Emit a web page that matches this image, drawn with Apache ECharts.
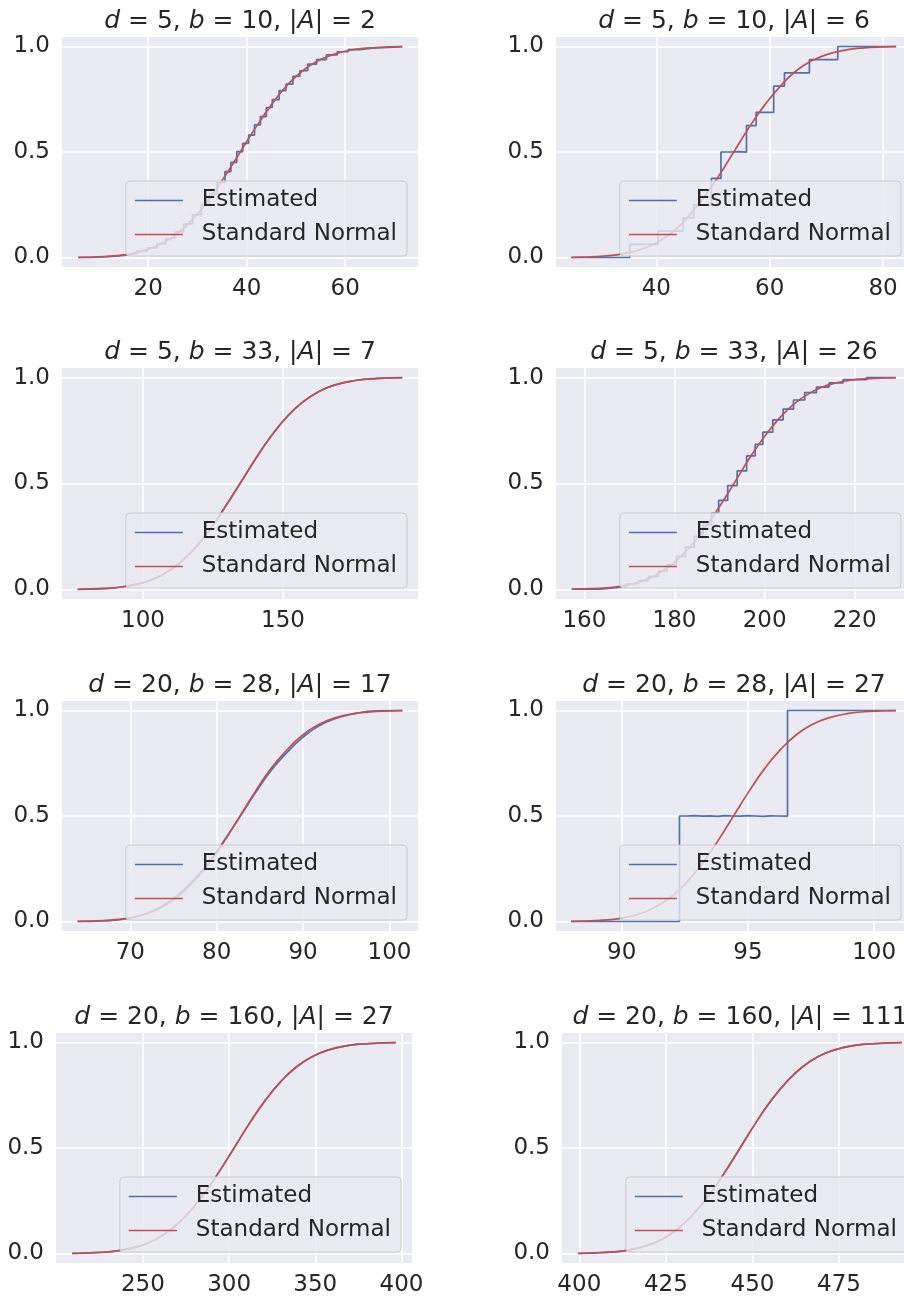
<!DOCTYPE html>
<html>
<head>
<meta charset="utf-8">
<script src="https://cdn.jsdelivr.net/npm/echarts@6/dist/echarts.min.js"></script>
<style>
html, body { margin: 0; padding: 0; background: #fff; }
#main { width: 904px; height: 1298px; }
</style>
</head>
<body>
<div id="main"></div>
<script>
// panel parameters (title values)
var dVals = [5, 5, 5, 5, 20, 20, 20, 20];
var bVals = [10, 10, 33, 33, 28, 28, 160, 160];
var aVals = [2, 6, 7, 26, 17, 27, 27, 111];

// x tick labels per panel
var xTicks = [
    [20, 40, 60], [40, 60, 80],
    [100, 150], [160, 180, 200, 220],
    [70, 80, 90, 100], [90, 95, 100],
    [250, 300, 350, 400], [400, 425, 450, 475]
];
var yTicks = [0, 0.5, 1];

// standard normal curve, y values (shared), x values per panel
var normalY = [0.0010, 0.0047, 0.0139, 0.0359, 0.0668, 0.1151, 0.1841, 0.2743, 0.3821, 0.5,
    0.6179, 0.7257, 0.8159, 0.8849, 0.9332, 0.9641, 0.9861, 0.9953, 0.9990];
var normalX1 = [5.8, 11.1, 15.4, 19.6, 22.8, 26.0, 29.2, 32.3, 35.5, 38.7, 41.9, 45.1, 48.2, 51.4, 54.6, 57.8, 62.0, 66.3, 71.6];
var normalX2 = [25.0, 29.6, 33.3, 37.0, 39.8, 42.6, 45.3, 48.1, 50.9, 53.65, 56.4, 59.2, 62.0, 64.7, 67.5, 70.3, 74.0, 77.7, 82.3];
var normalX3 = [76.7, 86.0, 93.5, 101.0, 106.6, 112.2, 117.8, 123.4, 129.0, 134.7, 140.3, 145.9, 151.5, 157.1, 162.7, 168.3, 175.8, 183.3, 192.6];
var normalX4 = [157.2, 163.0, 167.6, 172.3, 175.8, 179.2, 182.7, 186.2, 189.7, 193.2, 196.6, 200.1, 203.6, 207.1, 210.6, 214.0, 218.7, 223.3, 229.1];
var normalX5 = [63.9, 66.9, 69.4, 71.8, 73.6, 75.4, 77.2, 79.1, 80.9, 82.7, 84.5, 86.3, 88.2, 90.0, 91.8, 93.6, 96.0, 98.5, 101.5];
var normalX6 = [88.0, 89.0, 89.9, 90.7, 91.3, 91.94, 92.56, 93.19, 93.81, 94.43, 95.05, 95.67, 96.3, 96.92, 97.54, 98.16, 99.0, 99.8, 100.86];
var normalX7 = [209.0, 224.2, 236.2, 248.4, 257.4, 266.5, 275.6, 284.7, 293.8, 302.9, 311.9, 321.0, 330.1, 339.2, 348.3, 357.3, 369.4, 381.5, 396.7];
var normalX8 = [399.7, 407.2, 413.3, 419.3, 423.8, 428.3, 432.8, 437.4, 441.9, 446.4, 450.9, 455.4, 460.0, 464.5, 469.0, 473.5, 479.5, 485.6, 493.1];

// estimated curves
var estX1 = [5.8, 8.4, 11.0, 13.4, 15.6, 17.6, 19.8, 21.8, 23.6, 25.4, 27.2, 29.0, 30.8, 32.4, 34.0, 35.6, 36.8, 38.0, 39.2,
    40.4, 41.6, 42.8, 44.0, 45.2, 46.6, 48.0, 49.4, 50.8, 52.4, 54.2, 56.2, 58.4, 60.6, 63.0, 65.6, 68.6, 71.6];
var estY1 = [0.000, 0.003, 0.006, 0.011, 0.019, 0.030, 0.046, 0.066, 0.090, 0.121, 0.159, 0.203, 0.251, 0.302, 0.356, 0.407, 0.451, 0.502, 0.541,
    0.580, 0.629, 0.668, 0.711, 0.748, 0.791, 0.822, 0.859, 0.885, 0.916, 0.938, 0.960, 0.975, 0.985, 0.992, 0.996, 0.999, 1.000];
var estX2 = [25.0, 35.3, 40.3, 44.7, 46.6, 49.7, 51.4, 53.0, 54.5, 55.9, 57.6, 60.7, 62.6, 67.0, 72.0, 82.3];
var estY2 = [0, 0.0625, 0.125, 0.1875, 0.25, 0.375, 0.5, 0.502, 0.499, 0.625, 0.6875, 0.8125, 0.875, 0.9375, 1, 1];
var estY3 = [0.000, 0.004, 0.014, 0.036, 0.067, 0.116, 0.184, 0.275, 0.383, 0.501, 0.619, 0.726, 0.816, 0.885, 0.933, 0.964, 0.986, 0.996, 1.0];
var estX4 = [157.2, 163.5, 166.5, 169.5, 172.0, 174.2, 176.4, 178.4, 180.4, 182.4, 184.4, 186.3, 188.2, 189.8, 191.8, 193.9,
    196.0, 197.9, 199.6, 201.8, 204.1, 206.4, 208.9, 211.5, 214.3, 217.4, 222.6, 229.1];
var estY4 = [0.002, 0.0075, 0.015, 0.027, 0.042, 0.062, 0.087, 0.117, 0.156, 0.200, 0.251, 0.305, 0.360, 0.420, 0.490, 0.560,
    0.630, 0.685, 0.742, 0.800, 0.851, 0.894, 0.929, 0.955, 0.975, 0.990, 1.0, 1.0];
var estY5 = [0.000, 0.003, 0.012, 0.037, 0.071, 0.122, 0.192, 0.281, 0.386, 0.497, 0.611, 0.716, 0.804, 0.874, 0.926, 0.960, 0.985, 0.998, 1.0];
var estX6 = [88.0, 92.29, 92.6, 92.9, 93.2, 93.5, 93.8, 94.1, 94.4, 94.7, 95.0, 95.3, 95.6, 95.9, 96.2, 96.57, 100.86];
var estY6 = [0, 0.5, 0.502, 0.499, 0.501, 0.498, 0.502, 0.5, 0.499, 0.502, 0.5, 0.498, 0.501, 0.5, 0.499, 1, 1];
var estY7 = [0.000, 0.005, 0.014, 0.036, 0.066, 0.115, 0.185, 0.274, 0.382, 0.500, 0.618, 0.726, 0.816, 0.885, 0.933, 0.964, 0.986, 0.995, 1.0];
var estY8 = [0.000, 0.005, 0.014, 0.036, 0.067, 0.115, 0.184, 0.274, 0.382, 0.499, 0.618, 0.725, 0.816, 0.885, 0.934, 0.964, 0.986, 0.995, 1.0];

function pairs(xs, ys) {
    var out = [];
    for (var i = 0; i < xs.length; i++) out.push([xs[i], ys[i]]);
    return out;
}

var panels = [
    {nx: normalX1, ex: estX1, ey: estY1, step: true, xr: [2.5, 74.8]},
    {nx: normalX2, ex: estX2, ey: estY2, step: true, xr: [22.3, 85.1]},
    {nx: normalX3, ex: normalX3, ey: estY3, step: false, xr: [71.1, 198.2]},
    {nx: normalX4, ex: estX4, ey: estY4, step: true, xr: [153.7, 232.7]},
    {nx: normalX5, ex: normalX5, ey: estY5, step: false, xr: [62.1, 103.3]},
    {nx: normalX6, ex: estX6, ey: estY6, step: true, xr: [87.4, 101.5]},
    {nx: normalX7, ex: normalX7, ey: estY7, step: false, xr: [199.6, 406.1]},
    {nx: normalX8, ex: normalX8, ey: estY8, step: false, xr: [395.0, 497.8]}
];

// plot boxes: left, top, width, height
var boxes = [
    [62, 37, 356, 230], [556, 37, 356, 230],
    [62, 368, 356, 231], [556, 368, 356, 231],
    [62, 701, 356, 230], [556, 701, 356, 230],
    [56, 1033, 356, 230], [562, 1033, 356, 230]
];
var W = 904, H = 1298;
var FONT = 'DejaVu Sans';
var TXT = '#262626';
var BLUE = '#4C72B0', RED = '#C44E52';

var grids = [], xAxes = [], yAxes = [], series = [], legends = [], graphics = [];

for (var i = 0; i < 8; i++) {
    var b = boxes[i], p = panels[i];
    grids.push({
        left: b[0], top: b[1], width: b[2], height: b[3],
        show: true, backgroundColor: '#EAEAF2', borderWidth: 0,
        containLabel: false, outerBoundsMode: 'none'
    });
    xAxes.push({
        gridIndex: i, type: 'value', min: p.xr[0], max: p.xr[1],
        axisLine: {show: false},
        axisTick: {show: false, customValues: xTicks[i]},
        axisLabel: {customValues: xTicks[i], fontFamily: FONT, fontSize: 23, color: TXT, margin: 11},
        splitLine: {show: true, lineStyle: {color: '#ffffff', width: 1.6}}
    });
    yAxes.push({
        gridIndex: i, type: 'value', min: -0.045, max: 1.045,
        axisLine: {show: false},
        axisTick: {show: false, customValues: yTicks},
        axisLabel: {
            customValues: yTicks, fontFamily: FONT, fontSize: 23, color: TXT, margin: 12,
            formatter: function (v) { return v.toFixed(1); }
        },
        splitLine: {show: true, lineStyle: {color: '#ffffff', width: 1.6}}
    });
    series.push({
        name: 'Estimated', type: 'line', xAxisIndex: i, yAxisIndex: i,
        data: pairs(p.ex, p.ey), symbol: 'none', showSymbol: false,
        step: p.step ? 'end' : false, smooth: p.step ? false : 0.5,
        lineStyle: {color: BLUE, width: 1.7}, itemStyle: {color: BLUE},
        z: 2, silent: true
    });
    series.push({
        name: 'Standard Normal', type: 'line', xAxisIndex: i, yAxisIndex: i,
        data: pairs(p.nx, normalY), symbol: 'none', showSymbol: false,
        smooth: 0.5,
        lineStyle: {color: RED, width: 1.7}, itemStyle: {color: RED},
        z: 3, silent: true
    });
    legends.push({
        orient: 'vertical',
        right: W - (b[0] + b[2] - 11),
        bottom: H - (b[1] + b[3] - 11),
        data: ['Estimated', 'Standard Normal'],
        icon: 'rect',
        itemWidth: 48, itemHeight: 1.7, itemGap: 11,
        padding: [8, 10, 10, 9],
        backgroundColor: 'rgba(234,234,242,0.8)',
        borderColor: '#cccccc', borderWidth: 1, borderRadius: 4,
        selectedMode: false,
        textStyle: {fontFamily: FONT, fontSize: 23, color: TXT, lineHeight: 23, padding: [0, 0, 0, 14]}
    });
    graphics.push({
        type: 'text',
        x: b[0] + b[2] / 2,
        y: b[1] - 16,
        style: {
            text: '{i|d} = ' + dVals[i] + ', {i|b} = ' + bVals[i] + ', |{i|A}| = ' + aVals[i],
            fontFamily: FONT, fontSize: 25, fill: TXT,
            align: 'center', verticalAlign: 'middle',
            rich: {i: {fontFamily: FONT, fontSize: 25, fontStyle: 'italic', fill: TXT}}
        }
    });
}

var chart = echarts.init(document.getElementById('main'), null, {renderer: 'canvas'});
chart.setOption({
    animation: false,
    backgroundColor: '#ffffff',
    grid: grids,
    xAxis: xAxes,
    yAxis: yAxes,
    legend: legends,
    graphic: graphics,
    series: series
});
</script>
</body>
</html>
